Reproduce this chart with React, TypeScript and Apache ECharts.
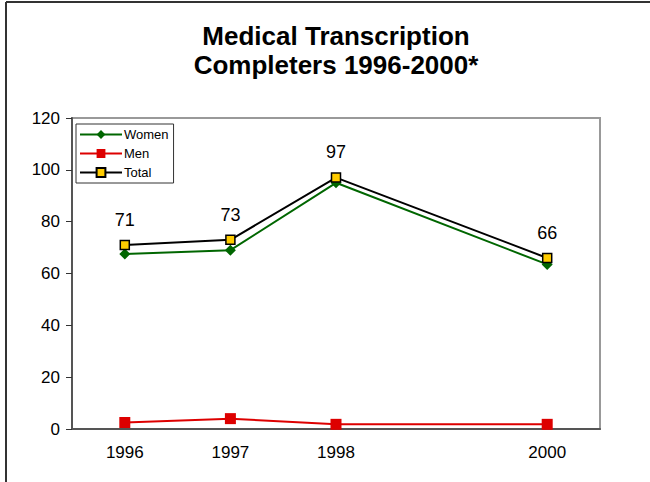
import React, { useEffect, useRef } from "react";
import * as echarts from "echarts";

const years = ["1996", "1997", "1998", "1999", "2000"];
const women = [67.5, 69, 95, null, 63.5];
const men = [2.5, 4, 1.8, null, 1.8];
const total = [71, 73, 97, null, 66];
const yTicks = { min: 0, max: 120, interval: 20 };

export default function App() {
  const ref = useRef<HTMLDivElement>(null);
  useEffect(() => {
    const chart = echarts.init(ref.current!, null, { renderer: "svg" });
    const font = "Arial, 'Liberation Sans', sans-serif";
    chart.setOption({
      animation: false,
      backgroundColor: "#fff",
      textStyle: { fontFamily: font },
      title: {
        text: "Medical Transcription\nCompleters 1996-2000*",
        left: 331,
        textAlign: "center",
        top: 16,
        textStyle: { fontSize: 26, fontWeight: "bold", color: "#000", lineHeight: 29, fontFamily: font },
      },
      graphic: [
        { type: "line", shape: { x1: 6, y1: 2, x2: 6, y2: 482 }, style: { stroke: "#333", lineWidth: 2 } },
        { type: "line", shape: { x1: 6, y1: 2, x2: 650, y2: 2 }, style: { stroke: "#333", lineWidth: 2 } },
      ],
      legend: {
        orient: "vertical",
        left: 76,
        top: 124,
        padding: [4, 5, 4, 3],
        itemGap: 6,
        itemWidth: 42,
        itemHeight: 11,
        borderColor: "#333",
        borderWidth: 1,
        textStyle: { fontSize: 13, color: "#000", padding: [0, 0, 0, -3], fontFamily: font },
        data: ["Women", "Men", "Total"],
      },
      grid: {
        left: 72,
        right: 50,
        top: 118,
        bottom: 53,
        show: true,
        borderColor: "#999",
        borderWidth: 2,
      },
      xAxis: {
        type: "category",
        data: years,
        boundaryGap: true,
        axisLine: { lineStyle: { color: "#555", width: 2 } },
        axisTick: { show: false },
        axisLabel: {
          fontSize: 17,
          color: "#000",
          margin: 15,
          formatter: (v: string) => (v === "1999" ? "" : v),
        },
      },
      yAxis: {
        type: "value",
        min: yTicks.min,
        max: yTicks.max,
        interval: yTicks.interval,
        splitLine: { show: false },
        axisLine: { show: true, lineStyle: { color: "#555", width: 2 } },
        axisTick: { show: true, length: 6, lineStyle: { color: "#333", width: 1 } },
        axisLabel: { fontSize: 17, color: "#000", margin: 12 },
      },
      series: [
        {
          name: "Women",
          type: "line",
          data: women,
          connectNulls: true,
          symbol: "diamond",
          symbolSize: 11,
          itemStyle: { color: "#006600" },
          lineStyle: { color: "#006600", width: 2 },
          z: 2,
        },
        {
          name: "Men",
          type: "line",
          data: men,
          connectNulls: true,
          symbol: "rect",
          symbolSize: 11,
          itemStyle: { color: "#dd0000" },
          lineStyle: { color: "#dd0000", width: 2 },
          z: 2,
        },
        {
          name: "Total",
          type: "line",
          data: total,
          connectNulls: true,
          symbol: "rect",
          symbolSize: 9,
          itemStyle: { color: "#ffcc00", borderColor: "#000", borderWidth: 1.5 },
          lineStyle: { color: "#000", width: 2 },
          label: {
            show: true,
            position: "top",
            distance: 11,
            fontSize: 18,
            color: "#000",
            fontFamily: font,
          },
          z: 3,
        },
      ],
    });
    return () => chart.dispose();
  }, []);
  return <div ref={ref} style={{ width: 650, height: 482, position: "absolute", left: 0, top: 0 }} />;
}
